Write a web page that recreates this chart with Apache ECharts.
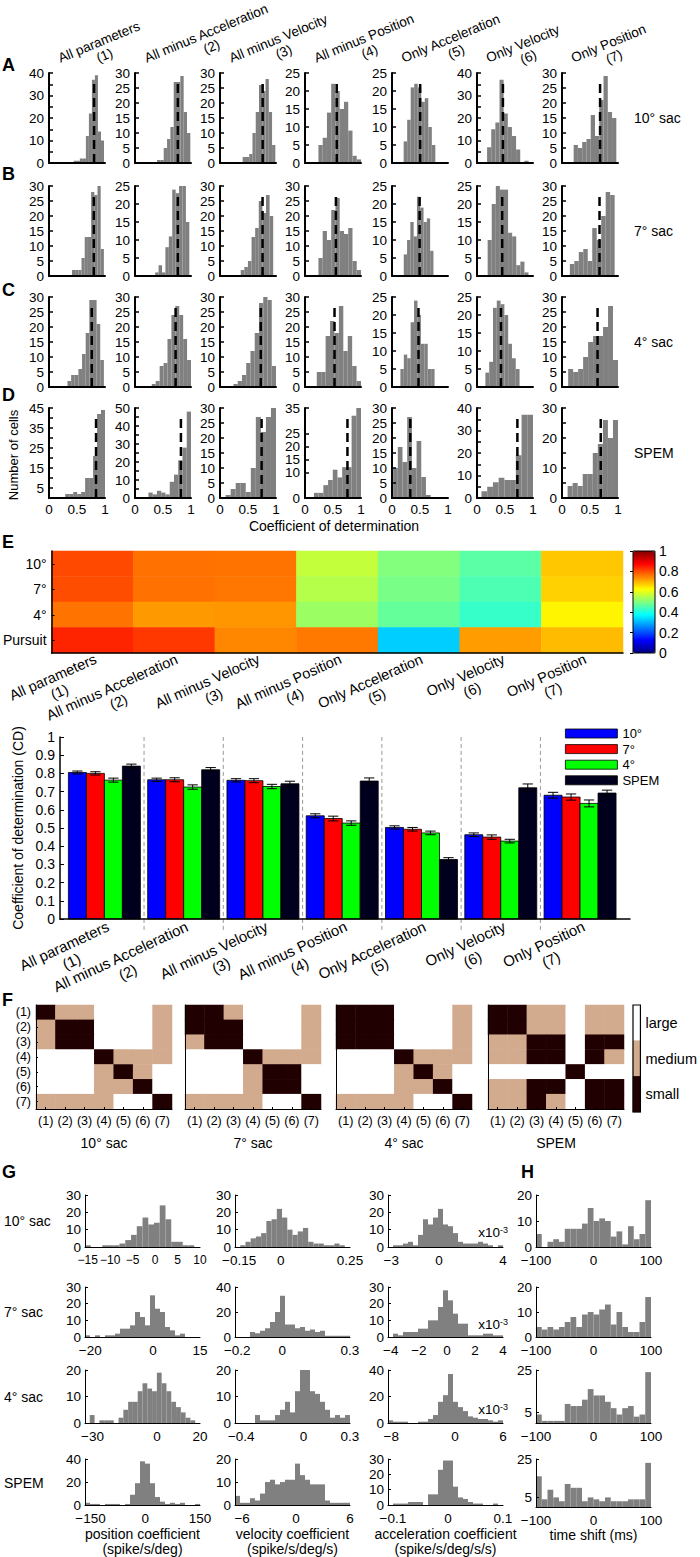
<!DOCTYPE html>
<html>
<head>
<meta charset="utf-8">
<title>Coefficient of determination figure</title>
<script src="https://cdn.jsdelivr.net/npm/echarts@6.0.0/dist/echarts.min.js"></script>
<style>
html,body{margin:0;padding:0;background:#fff;}
#chart{width:700px;height:1557px;}
</style>
</head>
<body>
<div id="chart"></div>
<script>
// ======================= DATA =======================
const modelNames = ['All parameters','All minus Acceleration','All minus Velocity','All minus Position','Only Acceleration','Only Velocity','Only Position'];
const modelNums = ['(1)','(2)','(3)','(4)','(5)','(6)','(7)'];
const conditionNames = ['10°','7°','4°','SPEM'];
const heatRowNames = ['10°','7°','4°','Pursuit'];
const rowNamesAD = ['10° sac','7° sac','4° sac','SPEM'];
const matrixNames = ['10° sac','7° sac','4° sac','SPEM'];
const effectLevels = ['large','medium','small'];

// mean coefficient of determination (bar heights, dashed lines, heatmap)
const meanCD10   = [0.805, 0.765, 0.762, 0.567, 0.503, 0.463, 0.680];
const meanCD7    = [0.800, 0.765, 0.760, 0.552, 0.493, 0.450, 0.670];
const meanCD4    = [0.763, 0.725, 0.728, 0.527, 0.473, 0.428, 0.635];
const meanCDSPEM = [0.840, 0.820, 0.743, 0.758, 0.327, 0.721, 0.692];
const semCD10    = [0.008, 0.009, 0.009, 0.011, 0.009, 0.010, 0.016];
const semCD7     = [0.009, 0.011, 0.011, 0.013, 0.010, 0.012, 0.017];
const semCD4     = [0.011, 0.012, 0.012, 0.012, 0.010, 0.010, 0.019];
const semCDSPEM  = [0.011, 0.012, 0.014, 0.017, 0.010, 0.021, 0.016];

// Panels A-D: histograms of CD (bins span [lo, hi])
const histLoA = [0.443, 0.394, 0.405, 0.24, 0.208, 0.18, 0.208];
const histHiA = [0.982, 0.988, 0.988, 1.0, 0.774, 0.92, 0.97];
const histCountsA = [
  [1,1,2,2,12,22,37,39,14,10],
  [1,1,5,8,12,27,27,29,17,10],
  [2,2,3,10,17,26,24,28,17,6],
  [5,7,14,22,20,15,17,9,2,1],
  [6,12,21,22,21,17,18,10,5],
  [7,15,18,37,22,16,12,6,0,1],
  [6,5,7,8,16,9,21,29,17,15]
];
const yMaxA = [40,30,30,25,25,40,30];
const yStepA = [10,5,5,5,5,10,5];
const yStartA = [0,0,0,0,0,0,0];

const histLoB = [0.41, 0.36, 0.37, 0.24, 0.21, 0.19, 0.14];
const histHiB = [0.98, 0.97, 0.95, 1.0, 0.74, 0.92, 0.94];
const histCountsB = [
  [2,2,2,6,13,13,28,27,30,9],
  [1,3,1,8,11,24,23,25,25,15],
  [2,3,5,13,16,25,21,27,20],
  [6,15,12,22,26,15,14,16,5,2],
  [6,10,15,11,22,19,15,16,7],
  [10,20,25,24,24,12,11,3,4,1],
  [4,5,8,9,5,16,12,20,28,27]
];
const yMaxB = [30,25,30,30,25,25,30];
const yStepB = [5,5,5,5,5,5,5];
const yStartB = [0,0,0,0,0,0,0];

const histLoC = [0.33, 0.30, 0.24, 0.21, 0.15, 0.15, 0.11];
const histHiC = [0.98, 1.0, 1.0, 1.0, 0.76, 0.76, 1.0];
const histCountsC = [
  [2,4,4,6,11,18,29,29,21,9],
  [1,2,7,8,16,24,27,24,16,9],
  [1,2,4,8,12,18,28,30,29,7],
  [5,5,17,22,18,27,12,17,7,2],
  [5,9,8,18,24,20,12,12,5,5],
  [4,7,22,24,23,20,12,8,5],
  [6,5,6,10,15,17,17,20,27,9]
];
const yMaxC = [30,30,30,30,25,25,30];
const yStepC = [5,5,5,5,5,5,5];
const yStartC = [0,0,0,0,0,0,0];

const histLoD = [0.29, 0.24, 0.10, 0.16, 0.02, 0.08, 0.10];
const histHiD = [1.0, 1.0, 1.0, 1.0, 0.69, 1.0, 1.0];
const histCountsD = [
  [2,2,3,2,3,10,10,21,42,44],
  [3,2,4,3,2,9,13,21,28,48],
  [1,3,5,5,2,10,27,22,27,30],
  [2,2,5,7,11,8,12,12,32,35],
  [10,17,12,27,10,19,7,1],
  [3,5,7,9,8,8,19,37,37],
  [4,5,4,8,8,15,18,26,20,26]
];
const yMaxD = [45,50,30,35,30,40,30];
const yStepD = [10,10,5,5,5,10,10];
const yStartD = [5,0,0,0,0,0,0];
const cdTicks = [0, 0.5, 1];

// Panel E colour bar ticks
const cbarTicks = [0, 0.2, 0.4, 0.6, 0.8, 1];

// Panel F: effect size (0 = large, 1 = medium, 2 = small)
const effect10 = [
  [2,1,1,0,0,0,1],[1,2,2,0,0,0,1],[1,2,2,0,0,0,1],[0,0,0,2,1,1,1],
  [0,0,0,1,2,1,0],[0,0,0,1,1,2,0],[1,1,1,1,0,0,2]];
const effect7 = [
  [2,2,1,0,0,0,1],[2,2,2,0,0,0,1],[1,2,2,0,0,0,1],[0,0,0,2,1,1,1],
  [0,0,0,1,2,2,0],[0,0,0,1,2,2,0],[1,1,1,1,0,0,2]];
const effect4 = [
  [2,2,2,0,0,0,1],[2,2,2,0,0,0,1],[2,2,2,0,0,0,1],[0,0,0,2,1,1,1],
  [0,0,0,1,2,1,0],[0,0,0,1,1,2,0],[1,1,1,1,0,0,2]];
const effectSPEM = [
  [2,2,1,1,0,1,1],[2,2,1,1,0,1,1],[1,1,2,2,0,2,2],[1,1,2,2,0,2,1],
  [0,0,0,0,2,0,0],[1,1,2,2,0,2,2],[1,1,2,1,0,2,2]];

// Panels G/H: coefficient histograms (bins span full axis range)
const gRangePos   = [[-15.6,10],[-21.7,15],[-33.5,20],[-165,150]];
const gRangeVel   = [[-0.165,0.25],[-0.21,0.3],[-0.44,0.3],[-6.8,6]];
const gRangeAcc   = [[-3.2,4],[-4.2,4],[-8.4,6],[-0.109,0.1]];
const gRangeShift = [[-100,100],[-100,100],[-100,100],[-100,100]];
const gTicksPos   = [[-15,-10,-5,0,5,10],[-20,0,15],[-30,0,20],[-150,0,150]];
const gTicksVel   = [[-0.15,0,0.25],[-0.2,0,0.3],[-0.4,0,0.3],[-6,0,6]];
const gTicksAcc   = [[-3,0,4],[-4,-2,0,2,4],[-8,0,6],[-0.1,0,0.1]];
const gTicksShift = [[-100,0,100],[-100,0,100],[-100,0,100],[-100,0,100]];
const gYMaxPos = [30,30,20,40],   gYLabPos = [[0,10,20,30],[0,10,20,30],[0,10,20],[0,20,40]];
const gYMaxVel = [30,40,20,20],   gYLabVel = [[0,10,20,30],[0,20,40],[0,10,20],[0,10,20]];
const gYMaxAcc = [30,30,40,30],   gYLabAcc = [[0,10,20,30],[0,10,20,30],[0,20,40],[0,10,20,30]];
const gYMaxShift = [20,20,25,25], gYLabShift = [[0,10,20],[0,10,20],[5,25],[5,25]];
const gCountsPos = [
  [1,0,0,1,1,1,2,4,7,12,17,13,14,24,16,3,3,1,1,0],
  [1,0,1,0,1,1,2,5,5,7,15,12,7,25,17,15,6,4,1,2,0,0,0],
  [0,3,0,1,1,1,0,2,5,8,8,12,15,13,12,19,15,12,8,6,4,2,1,0],
  [2,1,1,0,1,1,1,0,1,9,19,38,36,19,7,3,1,2,1,2,0,0,1]
];
const gCountsVel = [
  [0,1,3,5,6,8,15,16,22,17,10,7,9,11,3,2,2,1,1,2,1,0],
  [0,0,0,4,3,5,7,12,20,33,10,10,7,8,5,6,4,5,1,1,1,1,1],
  [0,0,0,0,3,1,1,1,3,5,8,4,12,20,20,12,11,8,5,2,3,2,3],
  [4,1,1,3,2,5,10,11,9,10,11,11,18,13,11,9,9,9,2,1,1,1,1]
];
const gCountsAcc = [
  [0,1,1,2,3,1,7,16,13,17,22,13,12,8,3,2,2,2,3,2,1,0,1],
  [0,2,1,3,3,3,5,5,10,10,18,28,22,14,8,8,1,1,1,2,2,1,1],
  [2,1,1,1,0,0,1,1,3,6,16,21,37,16,12,9,5,4,3,3,2,1,2],
  [0,1,1,1,2,2,2,0,7,7,23,29,29,12,5,4,2,1,1,0,0,1,0]
];
const gCountsShift = [
  [5,0,2,3,2,7,7,7,9,15,10,11,10,4,6,1,8,3,5,18],
  [4,3,4,3,4,6,8,4,9,10,9,11,13,5,10,4,2,2,6,16],
  [4,1,1,1,1,9,8,8,11,16,13,13,10,7,4,7,8,3,4,24],
  [16,4,9,5,3,12,10,10,3,5,4,3,5,3,3,3,4,4,4,23]
];
const gRowNames = ['10° sac','7° sac','4° sac','SPEM'];
const gAxisNames = ['position coefficient\n(spike/s/deg)','velocity coefficient\n(spike/s/deg/s)','acceleration coefficient\n(spike/s/deg/s/s)','time shift (ms)'];

// ======================= STYLE / LAYOUT =======================
const FONT = '"Liberation Sans", Arial, Helvetica, sans-serif';
const GRAY = '#808080';
const TAN = '#D2AA8E';
const DARK = '#200000';
const condColors = ['#0000FF','#FF0000','#00FF00','#00001E'];
const jetStops = ['#000080','#0000FF','#0080FF','#00FFFF','#80FF80','#FFFF00','#FF8000','#FF0000','#800000'];

const AD_LEFT = [49,135,220,305,392,477,562], AD_W = 56, AD_TOP = [73,186,297,408], AD_H = 90;
const G_LEFT = [85,235,388,536], G_W = 115, G_TOP = [1195,1287,1370,1459], G_BOT = [1247,1337,1423,1507];
const F_LEFT = [36,185,336,488], F_TOP = 1005, F_W = 136, F_H = 104;

const grids = [], xAxes = [], yAxes = [], series = [], graphics = [], extraX = [];
function addGrid(g, xa, ya) {
  const i = grids.length;
  grids.push(g); xa.gridIndex = i; ya.gridIndex = i;
  xAxes.push(xa); yAxes.push(ya);
  return i;
}
const line = (w, show) => ({show: show !== false, onZero: false, lineStyle: {color: '#000', width: w}});
const fmtNum = v => String(+(+v).toFixed(4)).replace('-', '\u2212');
function range(a, b, step) { const r = []; for (let v = a; v <= b + 1e-9; v += step) r.push(+v.toFixed(6)); return r; }
function txt(x, y, text, style, el) {
  graphics.push(Object.assign({type: 'text', x, y, silent: true, z: 50,
    style: Object.assign({text, fontFamily: FONT, fontSize: 14, fill: '#000', align: 'left', verticalAlign: 'middle'}, style || {})}, el || {}));
}

function histItem(params, api) {
  const a = api.coord([api.value(0), 0]);
  const b = api.coord([api.value(1), api.value(2)]);
  return {type: 'rect', shape: {x: a[0], y: b[1], width: b[0] - a[0], height: a[1] - b[1]}, style: {fill: GRAY}};
}
function binData(lo, hi, counts) {
  const w = (hi - lo) / counts.length;
  return counts.map((n, k) => [lo + k * w, lo + (k + 1) * w, n]);
}

// ---------- Panels A-D ----------
const adRows = [
  {lo: histLoA, hi: histHiA, counts: histCountsA, ymax: yMaxA, step: yStepA, start: yStartA, mean: meanCD10},
  {lo: histLoB, hi: histHiB, counts: histCountsB, ymax: yMaxB, step: yStepB, start: yStartB, mean: meanCD7},
  {lo: histLoC, hi: histHiC, counts: histCountsC, ymax: yMaxC, step: yStepC, start: yStartC, mean: meanCD4},
  {lo: histLoD, hi: histHiD, counts: histCountsD, ymax: yMaxD, step: yStepD, start: yStartD, mean: meanCDSPEM}
];
adRows.forEach((row, r) => {
  for (let c = 0; c < 7; c++) {
    const ym = row.ymax[c];
    const gi = addGrid(
      {left: AD_LEFT[c], top: AD_TOP[r], width: AD_W, height: AD_H},
      {type: 'value', min: 0, max: 1, z: 5, axisLine: line(2), axisTick: {show: false}, splitLine: {show: false},
       axisLabel: r === 3 ? {show: true, customValues: cdTicks, showMinLabel: true, showMaxLabel: true, formatter: v => String(v), fontSize: 13.5, color: '#000', margin: 4, fontFamily: FONT} : {show: false}},
      {type: 'value', min: 0, max: ym, z: 5, axisLine: line(2), splitLine: {show: false},
       axisTick: {show: true, inside: true, length: 4, lineStyle: {color: '#000', width: 1.5}, customValues: range(0, ym, 5)},
       axisLabel: {show: true, customValues: range(row.start[c], ym, row.step[c]), showMinLabel: true, showMaxLabel: true, hideOverlap: false,
         fontSize: 13.5, lineHeight: 10, color: '#000', margin: 5, fontFamily: FONT}}
    );
    series.push({type: 'custom', xAxisIndex: gi, yAxisIndex: gi, silent: true, z: 2,
      renderItem: histItem, encode: {x: [0, 1], y: 2}, data: binData(row.lo[c], row.hi[c], row.counts[c])});
    series.push({type: 'line', xAxisIndex: gi, yAxisIndex: gi, silent: true, z: 3, symbol: 'none',
      lineStyle: {color: '#000', width: 2.5, type: [9, 5]}, data: [[row.mean[c], 0], [row.mean[c], ym * 0.93]]});
  }
  txt(634, AD_TOP[r] + AD_H / 2, rowNamesAD[r], {fontSize: 14});
});
modelNames.forEach((nm, c) => {
  graphics.push({type: 'text', x: AD_LEFT[c] + 7, y: 52, rotation: 22.5 * Math.PI / 180, silent: true, z: 50,
    style: {text: '{a|' + nm + '}\n{a|' + modelNums[c] + '}', align: 'left', verticalAlign: 'top', fontFamily: FONT, fontSize: 13.5, fill: '#000',
      rich: {a: {align: 'center', fontSize: 13.5, lineHeight: 14.5, fontFamily: FONT, fill: '#000'}}}});
});
txt(13, 455, 'Number of cells', {fontSize: 13, align: 'center'}, {rotation: Math.PI / 2});
txt(334, 526, 'Coefficient of determination', {fontSize: 14, align: 'center'});

// ---------- Panel E heatmap ----------
const meanRows = [meanCD10, meanCD7, meanCD4, meanCDSPEM];
const heatData = [];
meanRows.forEach((row, j) => row.forEach((v, i) => heatData.push([i, j, v])));
const gE = addGrid({left: 50, top: 551, width: 573, height: 102},
  {type: 'category', data: modelNames, z: 5, axisLine: line(1.5), axisTick: {show: false}, splitLine: {show: false}, axisLabel: {show: false}},
  {type: 'category', data: heatRowNames, inverse: true, z: 5, axisLine: line(1.5), splitLine: {show: false},
   axisTick: {show: true, inside: true, length: 3, alignWithLabel: true, lineStyle: {color: '#000'}},
   axisLabel: {fontSize: 14, margin: 5, color: '#000', fontFamily: FONT}});
// label axis for the heatmap's columns (column k spans [k, k+1])
extraX.push({gridIndex: gE, type: 'value', min: 0, max: modelNames.length, position: 'bottom', z: 6,
  axisLine: {show: false}, axisTick: {show: false}, splitLine: {show: false},
  axisLabel: {customValues: modelNames.map((_, i) => i + 0.58), showMinLabel: true, showMaxLabel: true,
    rotate: 24, align: 'right', verticalAlign: 'middle', margin: 12.5,
    formatter: v => { const k = Math.floor(v); return '{a|' + modelNames[k] + '}\n{a|' + modelNums[k] + '}'; },
    rich: {a: {align: 'center', fontSize: 14.5, lineHeight: 16, fontFamily: FONT, color: '#000'}}}});
const heatSeriesIndex = series.length;
series.push({type: 'heatmap', xAxisIndex: gE, yAxisIndex: gE, data: heatData, silent: true, emphasis: {disabled: true}});
// colour-bar axis
const gCb = addGrid({left: 633, top: 551, width: 22, height: 102, show: true, borderColor: '#000', borderWidth: 1, backgroundColor: 'transparent', z: 10},
  {type: 'value', min: 0, max: 1, show: false},
  {type: 'value', min: 0, max: 1, interval: 0.2, position: 'right', z: 10, axisLine: {show: false}, splitLine: {show: false},
   axisTick: {show: true, inside: true, length: 3, lineStyle: {color: '#000'}, customValues: cbarTicks},
   axisLabel: {customValues: cbarTicks, showMinLabel: true, showMaxLabel: true, formatter: v => String(+v.toFixed(1)), fontSize: 14, margin: 4, color: '#000', fontFamily: FONT}});

// ---------- Bar chart ----------
const BW = 0.227, CAP = 0.13;
const gBar = addGrid({left: 60, top: 737, width: 570, height: 182},
  {type: 'value', min: 0.44, max: 7.63, z: 5, axisLine: line(1.5), axisTick: {show: false}, splitLine: {show: false},
   axisLabel: {customValues: modelNames.map((_, i) => i + 1.092), showMinLabel: true, showMaxLabel: true,
     rotate: 25, align: 'right', verticalAlign: 'middle', margin: 14,
     formatter: v => { const k = Math.round(v) - 1; return '{a|' + modelNames[k] + '}\n{a|' + modelNums[k] + '}'; },
     rich: {a: {align: 'center', fontSize: 15, lineHeight: 17, fontFamily: FONT, color: '#000'}}}},
  {type: 'value', min: 0, max: 1, interval: 0.1, z: 5, axisLine: line(1.5), splitLine: {show: false},
   name: 'Coefficient of determination (CD)', nameLocation: 'middle', nameGap: 33,
   nameTextStyle: {fontSize: 14, color: '#000', fontFamily: FONT},
   axisTick: {show: true, inside: true, length: 4, lineStyle: {color: '#000'}},
   axisLabel: {fontSize: 14, margin: 5, color: '#000', fontFamily: FONT, showMinLabel: true, showMaxLabel: true, formatter: v => String(+v.toFixed(1))}});
series.push({type: 'custom', xAxisIndex: gBar, yAxisIndex: gBar, silent: true, z: 1,
  data: modelNames.slice(1).map((_, i) => [i + 1.5]), encode: {x: 0},
  renderItem: (p, api) => {
    const a = api.coord([api.value(0), -0.06]), b = api.coord([api.value(0), 1]);
    return {type: 'line', shape: {x1: a[0], y1: a[1], x2: b[0], y2: b[1]}, style: {stroke: '#9a9a9a', lineWidth: 1, lineDash: [4, 3]}};
  }});
const semRows = [semCD10, semCD7, semCD4, semCDSPEM];
conditionNames.forEach((nm, c) => {
  series.push({type: 'custom', name: nm, xAxisIndex: gBar, yAxisIndex: gBar, silent: true, z: 3,
    itemStyle: {color: condColors[c], borderColor: '#000', borderWidth: 0.8},
    data: meanRows[c].map((v, g) => [g + 1, v, semRows[c][g]]), encode: {x: 0, y: 1},
    renderItem: (p, api) => {
      const g = api.value(0), v = api.value(1), e = api.value(2);
      const xc = g + (c - 1.5) * BW;
      const a = api.coord([xc - BW / 2, 0]), b = api.coord([xc + BW / 2, v]);
      const t = api.coord([xc, v + e]), d = api.coord([xc, v - e]);
      const cl = api.coord([xc - CAP / 2, v])[0], cr = api.coord([xc + CAP / 2, v])[0];
      const ls = {stroke: '#000', lineWidth: 1};
      return {type: 'group', children: [
        {type: 'rect', shape: {x: a[0], y: b[1], width: b[0] - a[0], height: a[1] - b[1]}, style: {fill: condColors[c], stroke: '#000', lineWidth: 0.8}},
        {type: 'line', shape: {x1: t[0], y1: t[1], x2: d[0], y2: d[1]}, style: ls},
        {type: 'line', shape: {x1: cl, y1: t[1], x2: cr, y2: t[1]}, style: ls},
        {type: 'line', shape: {x1: cl, y1: d[1], x2: cr, y2: d[1]}, style: ls}
      ]};
    }});
});

// ---------- Panel F ----------
const effectMats = [effect10, effect7, effect4, effectSPEM];
const fSeries = [];
effectMats.forEach((mat, m) => {
  const gi = addGrid({left: F_LEFT[m], top: F_TOP, width: F_W, height: F_H},
    {type: 'category', data: modelNums, z: 5, axisLine: line(1), splitLine: {show: false},
     axisTick: {show: true, inside: true, length: 2, alignWithLabel: true, lineStyle: {color: '#000'}},
     axisLabel: {interval: 0, fontSize: 12.5, margin: 5, color: '#000', fontFamily: FONT},
     name: matrixNames[m], nameLocation: 'middle', nameGap: 27, nameTextStyle: {fontSize: 14, color: '#000', fontFamily: FONT}},
    {type: 'category', data: modelNums, inverse: true, z: 5, axisLine: line(1), splitLine: {show: false},
     axisTick: {show: m === 0, inside: true, length: 2, alignWithLabel: true, lineStyle: {color: '#000'}},
     axisLabel: {show: m === 0, interval: 0, fontSize: 12.5, margin: 5, color: '#000', fontFamily: FONT}});
  const d = [];
  mat.forEach((row, j) => row.forEach((v, i) => d.push([i, j, v])));
  fSeries.push(series.length);
  series.push({type: 'heatmap', xAxisIndex: gi, yAxisIndex: gi, data: d, silent: true, emphasis: {disabled: true}});
});
const gFl = addGrid({left: 633, top: 1005, width: 13, height: 107, show: true, borderColor: '#000', borderWidth: 1.2, backgroundColor: 'transparent', z: 10},
  {type: 'category', data: ['k'], show: false},
  {type: 'category', data: effectLevels, inverse: true, position: 'right', axisLine: {show: false}, axisTick: {show: false},
   axisLabel: {fontSize: 14.5, margin: 5, color: '#000', fontFamily: FONT}});
fSeries.push(series.length);
series.push({type: 'heatmap', xAxisIndex: gFl, yAxisIndex: gFl, data: effectLevels.map((_, j) => [0, j, j]), silent: true, emphasis: {disabled: true}});

// ---------- Panels G/H ----------
const gCols = [
  {range: gRangePos, ticks: gTicksPos, ymax: gYMaxPos, ylab: gYLabPos, counts: gCountsPos},
  {range: gRangeVel, ticks: gTicksVel, ymax: gYMaxVel, ylab: gYLabVel, counts: gCountsVel},
  {range: gRangeAcc, ticks: gTicksAcc, ymax: gYMaxAcc, ylab: gYLabAcc, counts: gCountsAcc},
  {range: gRangeShift, ticks: gTicksShift, ymax: gYMaxShift, ylab: gYLabShift, counts: gCountsShift}
];
for (let r = 0; r < 4; r++) {
  gCols.forEach((col, c) => {
    const [lo, hi] = col.range[r];
    const dense = col.ticks[r].length > 5;
    const xa = {type: 'value', min: lo, max: hi, z: 5, axisLine: line(1), axisTick: {show: false}, splitLine: {show: false},
      axisLabel: {customValues: col.ticks[r], showMinLabel: true, showMaxLabel: true, hideOverlap: false, formatter: fmtNum,
        fontSize: dense ? 12 : 13.5, lineHeight: 12, margin: 7, color: '#000', fontFamily: FONT}};
    if (r === 3) Object.assign(xa, {name: gAxisNames[c], nameLocation: 'middle', nameGap: 19,
      nameTextStyle: {fontSize: 14, lineHeight: 15, color: '#000', fontFamily: FONT, align: 'center', verticalAlign: 'top'}});
    const gi = addGrid({left: G_LEFT[c], top: G_TOP[r], width: G_W, height: G_BOT[r] - G_TOP[r]}, xa,
      {type: 'value', min: 0, max: col.ymax[r], z: 5, axisLine: line(1), splitLine: {show: false},
       axisTick: {show: true, inside: true, length: 3, customValues: col.ylab[r], lineStyle: {color: '#000'}},
       axisLabel: {customValues: col.ylab[r], showMinLabel: true, showMaxLabel: true, fontSize: 13.5, lineHeight: 10, margin: 4, color: '#000', fontFamily: FONT}});
    series.push({type: 'custom', xAxisIndex: gi, yAxisIndex: gi, silent: true, z: 2,
      renderItem: histItem, encode: {x: [0, 1], y: 2}, data: binData(lo, hi, col.counts[r])});
  });
  txt(4, (G_TOP[r] + G_BOT[r]) / 2, gRowNames[r], {fontSize: 14});
}
[1232, 1324, 1409].forEach(y => {
  txt(508, y, 'x10{s|-3}', {align: 'right', fontSize: 13.5, rich: {s: {fontSize: 9, verticalAlign: 'top', fontFamily: FONT, fill: '#000'}}});
});

// ---------- panel letters ----------
[['A', 2, 65], ['B', 2, 174], ['C', 2, 290], ['D', 2, 395], ['E', 2, 542], ['F', 2, 1000], ['G', 2, 1172], ['H', 521, 1172]]
  .forEach(([t, x, y]) => txt(x, y, t, {fontSize: 18, fontWeight: 'bold'}));

// label-only axes go after all paired axes so indices stay aligned
extraX.forEach(a => xAxes.push(a));

// ======================= OPTION =======================
const option = {
  animation: false,
  backgroundColor: '#ffffff',
  textStyle: {fontFamily: FONT, color: '#000'},
  grid: grids, xAxis: xAxes, yAxis: yAxes, series: series, graphic: graphics,
  legend: {data: conditionNames, orient: 'vertical', left: 565, top: 727, padding: 0,
    itemWidth: 52, itemHeight: 9, itemGap: 2.6, icon: 'rect', selectedMode: false,
    itemStyle: {borderColor: '#000', borderWidth: 0.8},
    textStyle: {fontSize: 13, lineHeight: 9, color: '#000', fontFamily: FONT}},
  visualMap: [
    {type: 'continuous', min: 0, max: 1, seriesIndex: [heatSeriesIndex], dimension: 2, show: true, calculable: false, hoverLink: false,
     inRange: {color: jetStops}, left: 633, top: 551, itemWidth: 22, itemHeight: 102, padding: 0, z: 4},
    {type: 'piecewise', show: false, seriesIndex: fSeries, dimension: 2,
     pieces: [{value: 0, color: '#FFFFFF'}, {value: 1, color: TAN}, {value: 2, color: DARK}]}
  ]
};
const chart = echarts.init(document.getElementById('chart'), null, {renderer: 'svg', width: 700, height: 1557});
chart.setOption(option);
</script>
</body>
</html>
